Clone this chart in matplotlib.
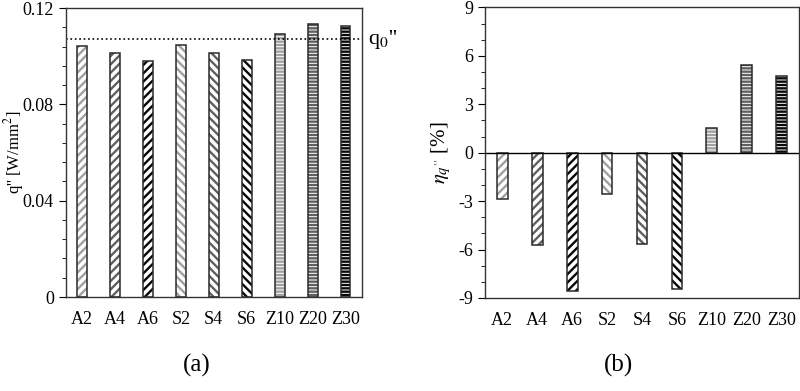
import matplotlib
matplotlib.use("Agg")
import matplotlib.pyplot as plt
from matplotlib.ticker import MultipleLocator, FixedLocator

plt.rcParams["font.family"] = ["Liberation Serif", "DejaVu Serif"]
plt.rcParams["mathtext.fontset"] = "stix"
plt.rcParams["hatch.linewidth"] = 1.7
plt.rcParams["axes.unicode_minus"] = False

cases = ["A2", "A4", "A6", "S2", "S4", "S6", "Z10", "Z20", "Z30"]
q_flux = [0.1042, 0.1012, 0.0981, 0.1046, 0.1014, 0.0984, 0.1093, 0.1134, 0.1127]
q0 = 0.107
eta = [-2.84, -5.74, -8.57, -2.57, -5.64, -8.46, 1.56, 5.44, 4.77]

hatches = ["////", "////", "////", "\\\\\\\\", "\\\\\\\\", "\\\\\\\\",
           "-----", "-----", "-----"]
shades = ["#a0a0a0", "#606060", "#080808"] * 3

fig = plt.figure(figsize=(8, 3.91), dpi=100)
ax1 = fig.add_axes([0.082, 0.2404, 0.3705, 0.7391])
ax2 = fig.add_axes([0.606, 0.238, 0.393, 0.743])

x = list(range(len(cases)))


def draw_bars(ax, vals, width):
    for xi, v, h, c in zip(x, vals, hatches, shades):
        ax.bar(xi, v, width, color="white", hatch=h, edgecolor=c, linewidth=0)
        ax.bar(xi, v, width, fill=False, edgecolor="#2a2a2a", linewidth=1.1)
    ax.set_xlim(-0.5, len(cases) - 0.5)
    ax.set_xticks(x)
    ax.set_xticklabels(cases, fontsize=13)
    ax.tick_params(axis="x", length=0, pad=10)
    ax.tick_params(axis="y", which="major", direction="out", length=5, labelsize=13)
    ax.tick_params(axis="y", which="minor", direction="out", length=3)
    for s in ax.spines.values():
        s.set_linewidth(1.0)
        s.set_color("#333333")


# (a)
draw_bars(ax1, q_flux, 0.3)
ax1.set_ylim(0, 0.12)
ax1.yaxis.set_major_locator(FixedLocator([0, 0.04, 0.08, 0.12]))
ax1.yaxis.set_minor_locator(MultipleLocator(0.008))
ax1.set_yticklabels(["0", "0.04", "0.08", "0.12"])
ax1.axhline(q0, ls=":", color="black", lw=1.2)
ax1.text(8.68, q0, "q$_0$''", fontsize=16, ha="left", va="center", clip_on=False)
ax1.set_ylabel("q'' [W/mm$^2$]", fontsize=12)
ax1.yaxis.set_label_coords(-0.135, 0.5)

# (b)
draw_bars(ax2, eta, 0.31)
ax2.set_ylim(-9, 9)
ax2.yaxis.set_major_locator(MultipleLocator(3))
ax2.yaxis.set_minor_locator(MultipleLocator(1))
ax2.axhline(0, color="black", lw=1.0)
ax2.set_ylabel("$\\eta_{q''}$ [%]", fontsize=15)
ax2.yaxis.set_label_coords(-0.10, 0.5)

fig.text(0.246, 0.035, "(a)", fontsize=18, ha="center", va="bottom")
fig.text(0.773, 0.035, "(b)", fontsize=18, ha="center", va="bottom")

fig.savefig("out.png", dpi=100)
